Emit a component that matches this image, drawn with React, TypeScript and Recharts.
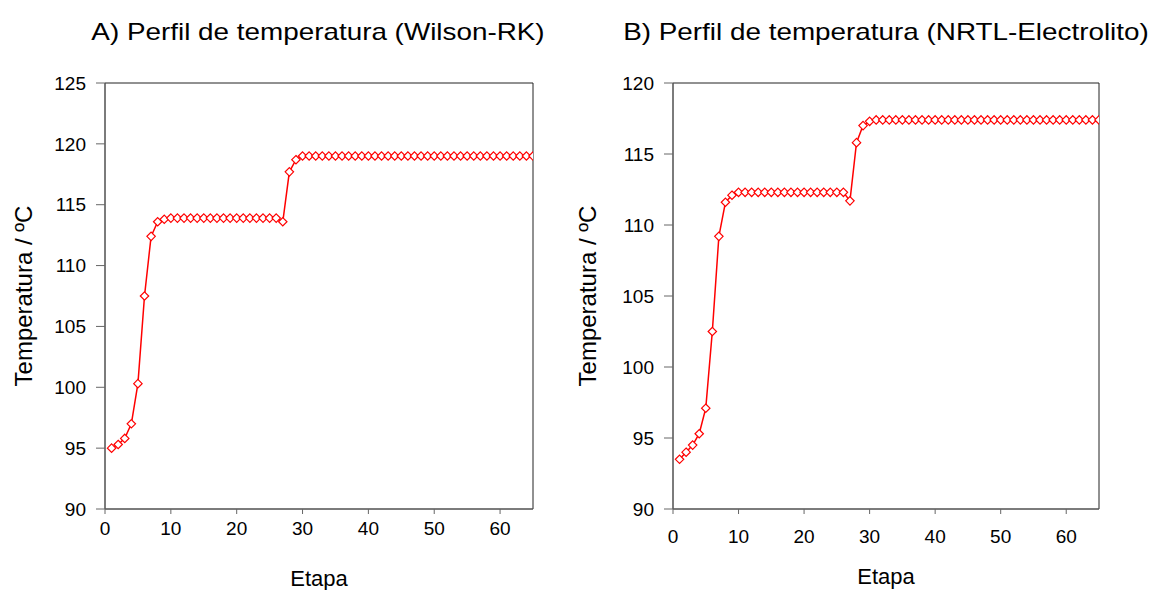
import React from "react";
import { LineChart, Line, XAxis, YAxis, Label, ReferenceArea } from "recharts";

const etapas: number[] = [
  1, 2, 3, 4, 5, 6, 7, 8, 9, 10, 11, 12, 13, 14, 15, 16, 17, 18, 19, 20,
  21, 22, 23, 24, 25, 26, 27, 28, 29, 30, 31, 32, 33, 34, 35, 36, 37, 38, 39, 40,
  41, 42, 43, 44, 45, 46, 47, 48, 49, 50, 51, 52, 53, 54, 55, 56, 57, 58, 59, 60,
  61, 62, 63, 64, 65,
];

const tempWilson: number[] = [
  95.0, 95.3, 95.8, 97.0, 100.3, 107.5, 112.4, 113.6, 113.8, 113.9,
  113.9, 113.9, 113.9, 113.9, 113.9, 113.9, 113.9, 113.9, 113.9, 113.9,
  113.9, 113.9, 113.9, 113.9, 113.9, 113.9, 113.6, 117.7, 118.7, 119.0,
  119.0, 119.0, 119.0, 119.0, 119.0, 119.0, 119.0, 119.0, 119.0, 119.0,
  119.0, 119.0, 119.0, 119.0, 119.0, 119.0, 119.0, 119.0, 119.0, 119.0,
  119.0, 119.0, 119.0, 119.0, 119.0, 119.0, 119.0, 119.0, 119.0, 119.0,
  119.0, 119.0, 119.0, 119.0, 119.0,
];

const tempNRTL: number[] = [
  93.5, 94.0, 94.5, 95.3, 97.1, 102.5, 109.2, 111.6, 112.1, 112.3,
  112.3, 112.3, 112.3, 112.3, 112.3, 112.3, 112.3, 112.3, 112.3, 112.3,
  112.3, 112.3, 112.3, 112.3, 112.3, 112.3, 111.7, 115.8, 117.0, 117.3,
  117.4, 117.4, 117.4, 117.4, 117.4, 117.4, 117.4, 117.4, 117.4, 117.4,
  117.4, 117.4, 117.4, 117.4, 117.4, 117.4, 117.4, 117.4, 117.4, 117.4,
  117.4, 117.4, 117.4, 117.4, 117.4, 117.4, 117.4, 117.4, 117.4, 117.4,
  117.4, 117.4, 117.4, 117.4, 117.4,
];

const xTicks: number[] = [0, 10, 20, 30, 40, 50, 60];
const yTicksA: number[] = [90, 95, 100, 105, 110, 115, 120, 125];
const yTicksB: number[] = [90, 95, 100, 105, 110, 115, 120];

const titleA = "A) Perfil de temperatura (Wilson-RK)";
const titleB = "B) Perfil de temperatura (NRTL-Electrolito)";
const xLabel = "Etapa";
const yLabel = "Temperatura / ºC";

const dataA = etapas.map((e, i) => ({ etapa: e, t: tempWilson[i] }));
const dataB = etapas.map((e, i) => ({ etapa: e, t: tempNRTL[i] }));

const FONT = "Arial, 'Liberation Sans', sans-serif";
const RED = "#ff0000";
const AXIS = "#666666";
const FRAME = "#222222";

const Diamond = (props: any) => {
  const { cx, cy, index } = props;
  if (cx == null || cy == null) return <g key={index} />;
  const r = 4.2;
  return (
    <path
      key={index}
      d={`M${cx},${cy - r}L${cx + r},${cy}L${cx},${cy + r}L${cx - r},${cy}Z`}
      fill="#ffffff"
      stroke={RED}
      strokeWidth={1.2}
    />
  );
};

const tickStyle = { fontSize: 19, fill: "#000", fontFamily: FONT };

function Panel(props: {
  data: { etapa: number; t: number }[];
  yDomain: [number, number];
  yTicks: number[];
  marginLeft: number;
  marginRight: number;
  yLabelOffset: number;
  xTickMargin: number;
  xLabelOffset: number;
}) {
  const { data, yDomain, yTicks, marginLeft, marginRight, yLabelOffset, xTickMargin, xLabelOffset } = props;
  return (
    <LineChart
      width={574}
      height={590}
      data={data}
      margin={{ top: 83, right: marginRight, bottom: 51, left: marginLeft }}
    >
      <ReferenceArea
        x1={0}
        x2={65}
        y1={yDomain[0]}
        y2={yDomain[1]}
        fill="#ffffff"
        fillOpacity={0}
        stroke={FRAME}
        strokeWidth={1}
        ifOverflow="visible"
      />
      <XAxis
        dataKey="etapa"
        type="number"
        domain={[0, 65]}
        ticks={xTicks}
        height={30}
        tickSize={5}
        tickMargin={xTickMargin}
        stroke={AXIS}
        tick={tickStyle}
        allowDataOverflow
      >
        <Label
          value={xLabel}
          position="bottom"
          offset={xLabelOffset}
          style={{ fontSize: 22, fill: "#000", fontFamily: FONT }}
        />
      </XAxis>
      <YAxis
        type="number"
        domain={yDomain}
        ticks={yTicks}
        width={50}
        tickSize={9}
        tickMargin={10}
        stroke={AXIS}
        tick={tickStyle}
        allowDataOverflow
      >
        <Label
          value={yLabel}
          angle={-90}
          position="left"
          offset={yLabelOffset}
          style={{ fontSize: 24, fill: "#000", fontFamily: FONT, textAnchor: "middle" }}
        />
      </YAxis>
      <Line
        type="linear"
        dataKey="t"
        stroke={RED}
        strokeWidth={1.5}
        dot={<Diamond />}
        activeDot={false}
        isAnimationActive={false}
      />
    </LineChart>
  );
}

const titleStyle: React.CSSProperties = {
  position: "absolute",
  top: 18,
  width: 600,
  textAlign: "center",
  fontSize: 24,
  lineHeight: "28px",
  color: "#000",
  transform: "scaleX(1.16)",
  transformOrigin: "center",
  whiteSpace: "nowrap",
};

export default function App() {
  return (
    <div
      style={{
        position: "absolute",
        left: 0,
        top: 0,
        width: 1149,
        height: 590,
        background: "#fff",
        fontFamily: FONT,
        overflow: "hidden",
      }}
    >
      <div style={{ position: "absolute", left: 0, top: 0 }}>
        <Panel
          data={dataA}
          yDomain={[90, 125]}
          yTicks={yTicksA}
          marginLeft={55}
          marginRight={41}
          yLabelOffset={31.5}
          xTickMargin={8}
          xLabelOffset={31}
        />
      </div>
      <div style={{ position: "absolute", left: 574, top: 0 }}>
        <Panel
          data={dataB}
          yDomain={[90, 120]}
          yTicks={yTicksB}
          marginLeft={49}
          marginRight={49}
          yLabelOffset={35.3}
          xTickMargin={16}
          xLabelOffset={29}
        />
      </div>
      <div style={{ ...titleStyle, left: 318 - 300 }}>{titleA}</div>
      <div style={{ ...titleStyle, left: 886 - 300 }}>{titleB}</div>
    </div>
  );
}
